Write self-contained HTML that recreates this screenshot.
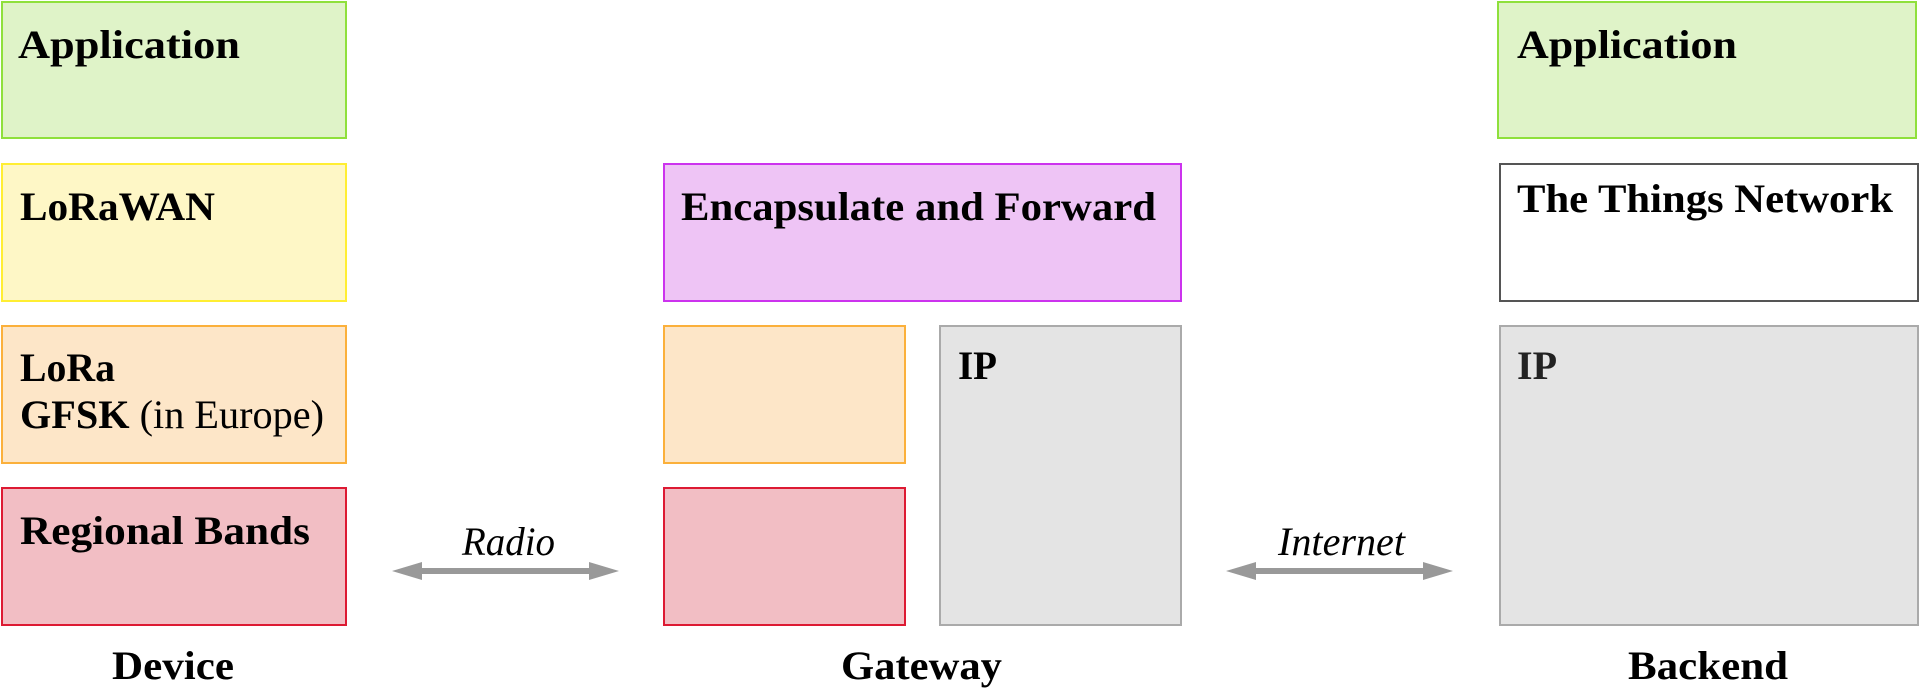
<!DOCTYPE html>
<html><head><meta charset="utf-8"><style>
html,body{margin:0;padding:0;background:#fff;width:1920px;height:690px;overflow:hidden}
svg{display:block}
text{font-family:"Liberation Serif",serif;font-size:40px;fill:#000}
.b{font-weight:bold}
.i{font-style:italic}
</style></head><body>
<svg width="1920" height="690" viewBox="0 0 1920 690" xmlns="http://www.w3.org/2000/svg">
<g stroke-width="2">
<!-- Device -->
<rect x="2" y="2" width="344" height="136" fill="#dff3c8" stroke="#8fe03c"/>
<rect x="2" y="164" width="344" height="137" fill="#fef7c6" stroke="#ffee33"/>
<rect x="2" y="326" width="344" height="137" fill="#fde6c8" stroke="#fbb03b"/>
<rect x="2" y="488" width="344" height="137" fill="#f2bec4" stroke="#dd1a33"/>
<!-- Gateway -->
<rect x="664" y="164" width="517" height="137" fill="#eec4f5" stroke="#cc33ee"/>
<rect x="664" y="326" width="241" height="137" fill="#fde6c8" stroke="#fbb03b"/>
<rect x="664" y="488" width="241" height="137" fill="#f2bec4" stroke="#dd1a33"/>
<rect x="940" y="326" width="241" height="299" fill="#e4e4e4" stroke="#aaaaaa"/>
<!-- Backend -->
<rect x="1498" y="2" width="418" height="136" fill="#dff3c8" stroke="#8fe03c"/>
<rect x="1500" y="164" width="418" height="137" fill="#ffffff" stroke="#555555"/>
<rect x="1500" y="326" width="418" height="299" fill="#e4e4e4" stroke="#aaaaaa"/>
</g>
<!-- arrows -->
<g fill="#999999">
<rect x="418" y="568" width="176" height="6"/>
<polygon points="392,571 422,562 422,580"/>
<polygon points="619,571 589,562 589,580"/>
<rect x="1252" y="568" width="176" height="6"/>
<polygon points="1226,571 1256,562 1256,580"/>
<polygon points="1453,571 1423,562 1423,580"/>
</g>
<text class="b" x="18" y="58" textLength="222" lengthAdjust="spacingAndGlyphs">Application</text>
<text class="b" x="20" y="220" textLength="195" lengthAdjust="spacingAndGlyphs">LoRaWAN</text>
<text class="b" x="20" y="381" textLength="95" lengthAdjust="spacingAndGlyphs">LoRa</text>
<text x="20" y="428" textLength="304" lengthAdjust="spacingAndGlyphs"><tspan class="b">GFSK</tspan> (in Europe)</text>
<text class="b" x="20" y="544" textLength="290" lengthAdjust="spacingAndGlyphs">Regional Bands</text>
<text class="i" x="462" y="555" textLength="93" lengthAdjust="spacingAndGlyphs">Radio</text>
<text class="b" x="112" y="679" textLength="122" lengthAdjust="spacingAndGlyphs">Device</text>
<text class="b" x="681" y="220" textLength="475" lengthAdjust="spacingAndGlyphs">Encapsulate and Forward</text>
<text class="b" x="958" y="379" textLength="39" lengthAdjust="spacingAndGlyphs">IP</text>
<text class="b" x="841" y="679" textLength="161" lengthAdjust="spacingAndGlyphs">Gateway</text>
<text class="i" x="1278" y="555" textLength="127" lengthAdjust="spacingAndGlyphs">Internet</text>
<text class="b" x="1517" y="58" textLength="220" lengthAdjust="spacingAndGlyphs">Application</text>
<text class="b" x="1517" y="212" textLength="376" lengthAdjust="spacingAndGlyphs">The Things Network</text>
<text class="b" x="1517" y="379" textLength="40" lengthAdjust="spacingAndGlyphs" style="fill:#222">IP</text>
<text class="b" x="1628" y="679" textLength="160" lengthAdjust="spacingAndGlyphs">Backend</text>
</svg>
</body></html>
